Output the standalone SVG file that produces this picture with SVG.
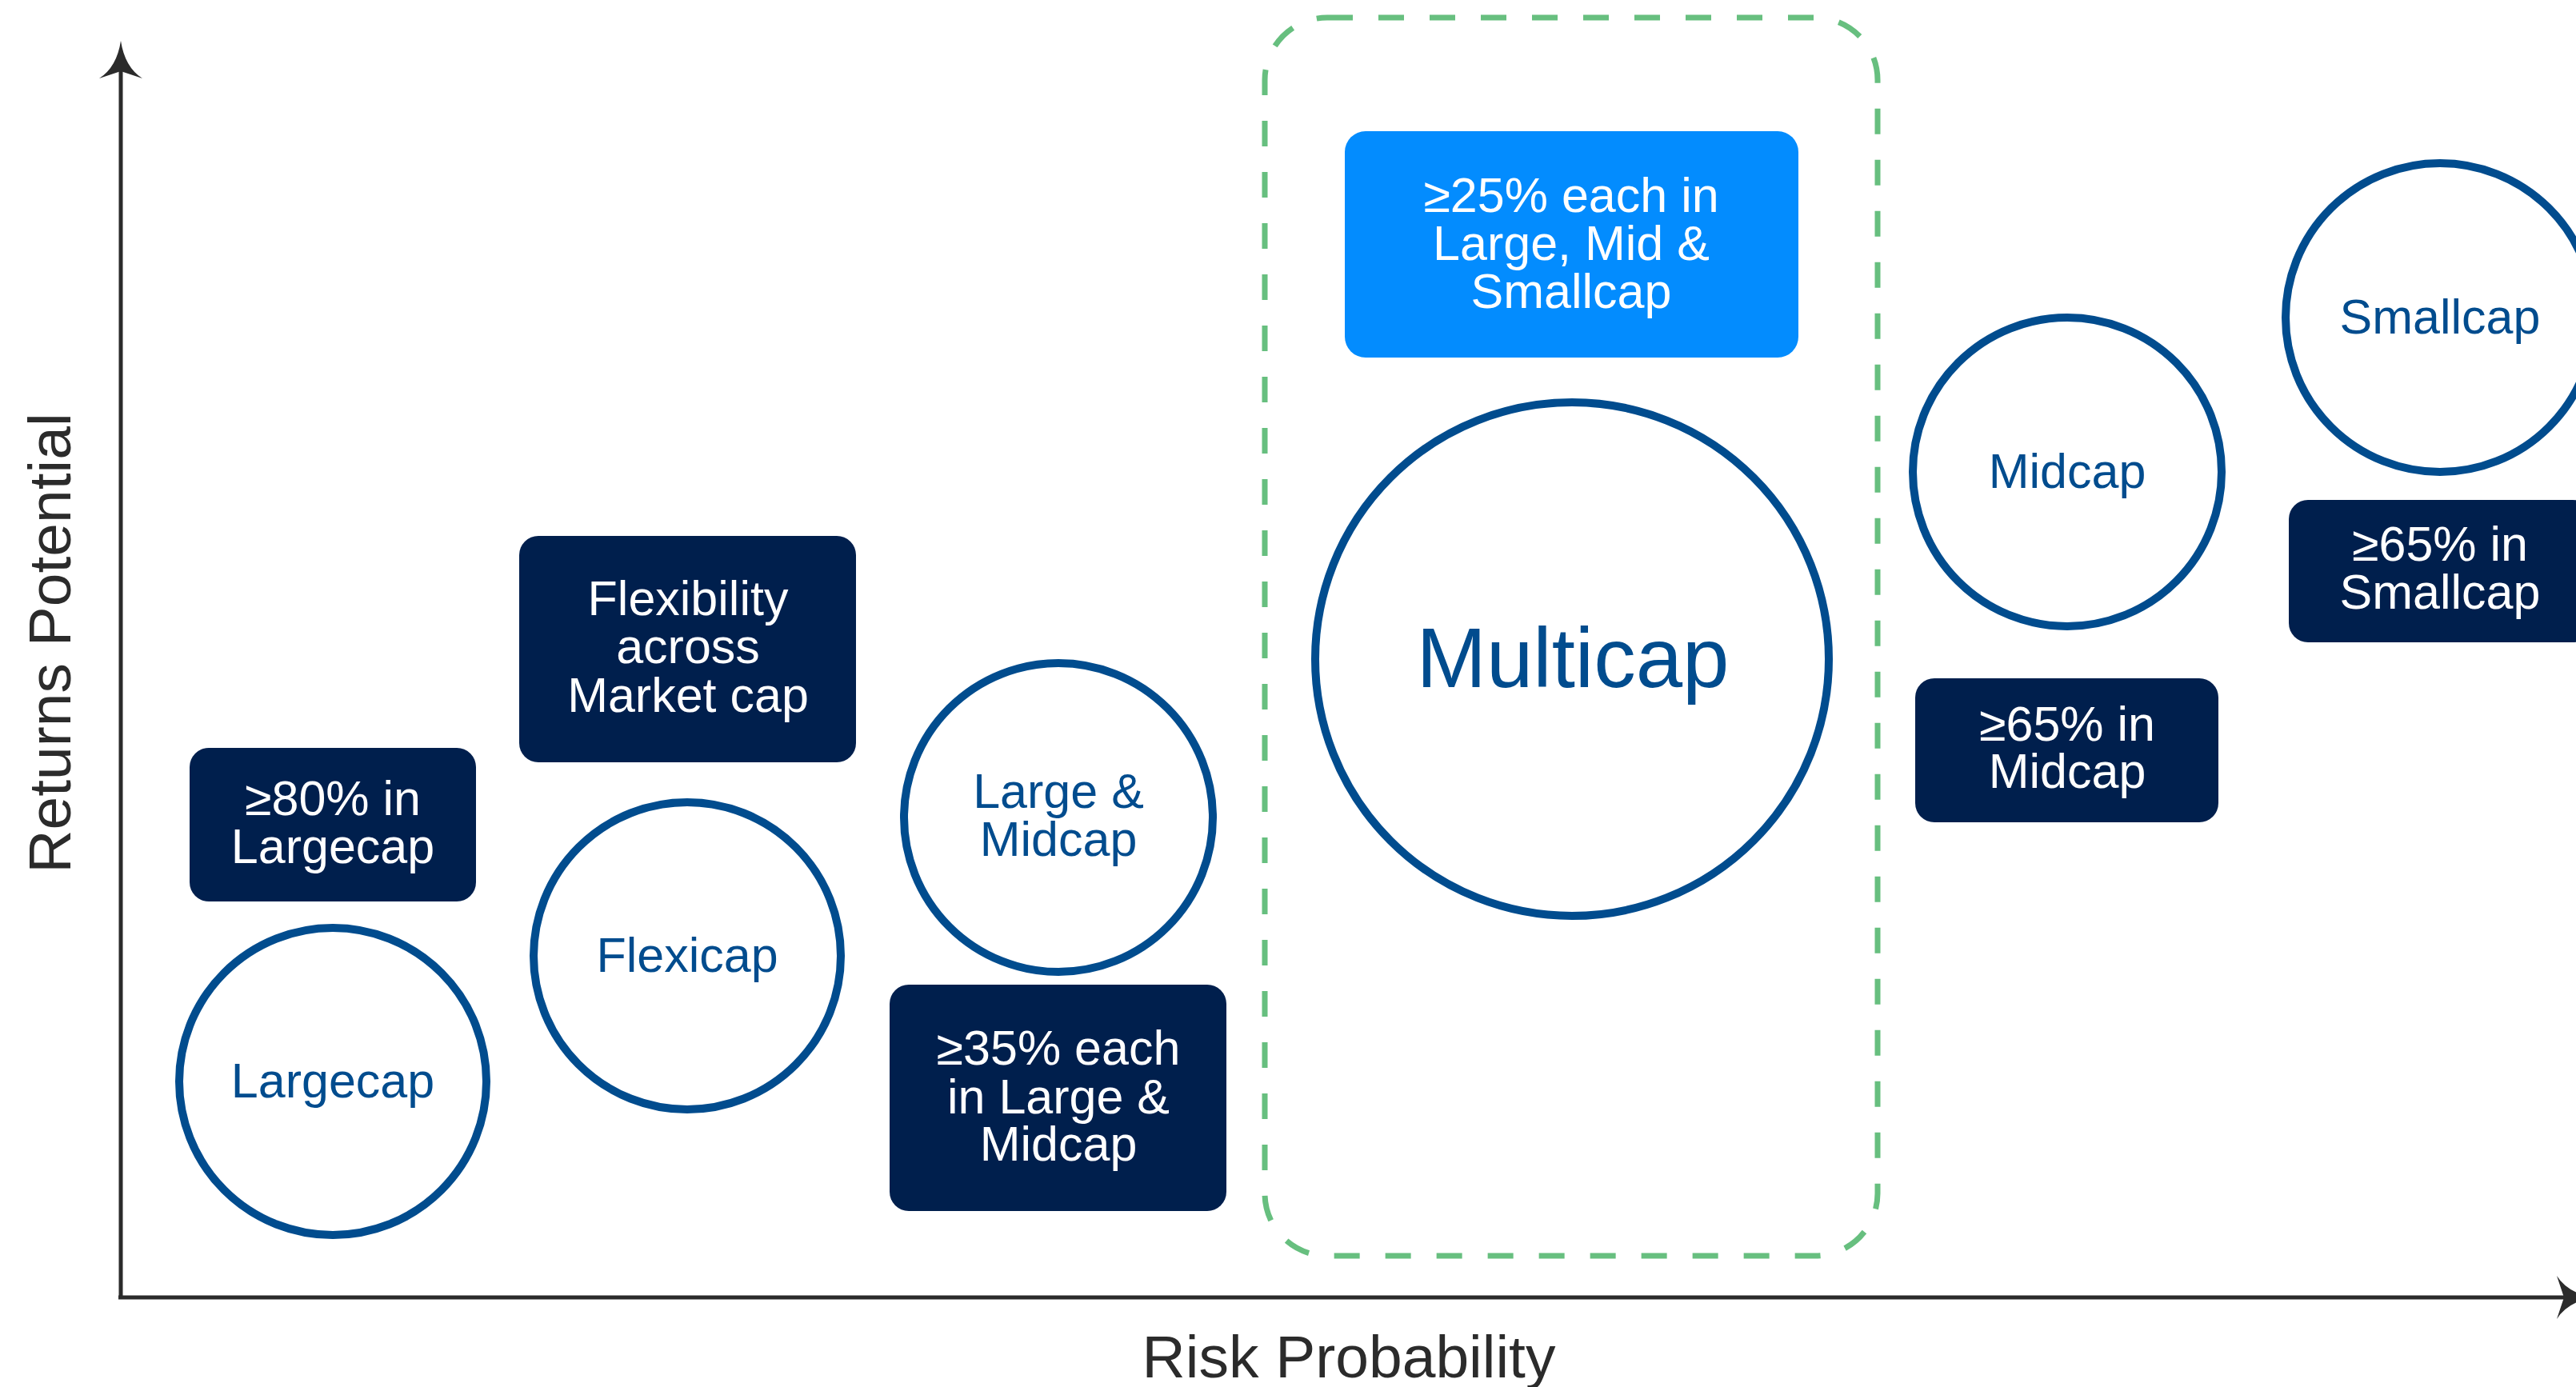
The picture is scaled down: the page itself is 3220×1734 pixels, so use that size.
<svg xmlns="http://www.w3.org/2000/svg" width="3220" height="1734" viewBox="0 0 3220 1734">
<style>
  .ring{fill:#ffffff;stroke:#014C8E;stroke-width:10}
  .ctext{font-family:"Liberation Sans",Arial,sans-serif;font-size:61px;fill:#014C8E;text-anchor:middle}
  .big{font-size:105px}
  .box{fill:#001F4D}
  .btext{font-family:"Liberation Sans",Arial,sans-serif;font-size:61px;fill:#ffffff;text-anchor:middle}
  .axis{stroke:#2B2B2B;stroke-width:5;fill:none}
  .atext{font-family:"Liberation Sans",Arial,sans-serif;font-size:75px;fill:#2B2B2B;text-anchor:middle}
</style>
<rect width="3220" height="1734" fill="#ffffff"/>

<g id="axes">
  <line class="axis" x1="151" y1="1622" x2="151" y2="80"/>
  <path d="M151,51 Q146,84 124,98 L151,89 L178,98 Q156,84 151,51 Z" fill="#2B2B2B"/>
  <line class="axis" x1="148" y1="1622" x2="3215" y2="1622"/>
  <path d="M3243,1622 Q3210,1617 3196,1595 L3205,1622 L3196,1649 Q3210,1627 3243,1622 Z" fill="#2B2B2B"/>
  <text class="atext" transform="translate(88,804) rotate(-90)">Returns Potential</text>
  <text class="atext" x="1686" y="1722">Risk Probability</text>
</g>

<g id="multicap-zone">
  <rect x="1581" y="22" width="766" height="1548" rx="78" ry="78" fill="none" stroke="#67BF7F" stroke-width="7" stroke-dasharray="32 32"/>
</g>

<g id="largecap">
  <circle class="ring" cx="416" cy="1352" r="192"/>
  <text class="ctext" x="416" y="1372">Largecap</text>
</g>
<g id="largecap-rule">
  <rect class="box" x="237" y="935" width="358" height="192" rx="24"/>
  <text class="btext" x="416" y="1019">≥80% in</text>
  <text class="btext" x="416" y="1079">Largecap</text>
</g>

<g id="flexicap">
  <circle class="ring" cx="859" cy="1195" r="192"/>
  <text class="ctext" x="859" y="1215">Flexicap</text>
</g>
<g id="flexicap-rule">
  <rect class="box" x="649" y="670" width="421" height="283" rx="24"/>
  <text class="btext" x="860" y="769">Flexibility</text>
  <text class="btext" x="860" y="829">across</text>
  <text class="btext" x="860" y="890">Market cap</text>
</g>

<g id="large-midcap">
  <circle class="ring" cx="1323" cy="1022" r="193"/>
  <text class="ctext" x="1323" y="1010">Large &amp;</text>
  <text class="ctext" x="1323" y="1070">Midcap</text>
</g>
<g id="large-midcap-rule">
  <rect class="box" x="1112" y="1231" width="421" height="283" rx="24"/>
  <text class="btext" x="1323" y="1331">≥35% each</text>
  <text class="btext" x="1323" y="1392">in Large &amp;</text>
  <text class="btext" x="1323" y="1451">Midcap</text>
</g>

<g id="multicap">
  <circle class="ring" cx="1965" cy="824" r="321"/>
  <text class="ctext big" x="1966" y="859">Multicap</text>
</g>
<g id="multicap-rule">
  <rect x="1681" y="164" width="567" height="283" rx="26" fill="#038CFE"/>
  <text class="btext" x="1964" y="265">≥25% each in</text>
  <text class="btext" x="1964" y="325">Large, Mid &amp;</text>
  <text class="btext" x="1964" y="385">Smallcap</text>
</g>

<g id="midcap">
  <circle class="ring" cx="2584" cy="590" r="193"/>
  <text class="ctext" x="2584" y="610">Midcap</text>
</g>
<g id="midcap-rule">
  <rect class="box" x="2394" y="848" width="379" height="180" rx="24"/>
  <text class="btext" x="2584" y="926">≥65% in</text>
  <text class="btext" x="2584" y="985">Midcap</text>
</g>

<g id="smallcap">
  <circle class="ring" cx="3050" cy="397" r="193"/>
  <text class="ctext" x="3050" y="417">Smallcap</text>
</g>
<g id="smallcap-rule">
  <rect class="box" x="2861" y="625" width="379" height="178" rx="24"/>
  <text class="btext" x="3050" y="701">≥65% in</text>
  <text class="btext" x="3050" y="761">Smallcap</text>
</g>
</svg>
